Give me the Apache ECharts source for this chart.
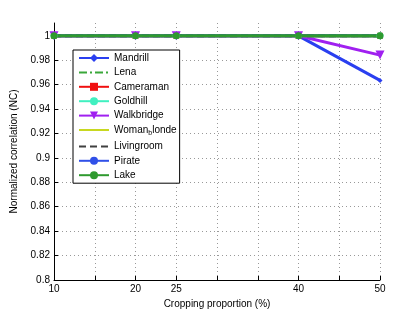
<!DOCTYPE html>
<html><head><meta charset="utf-8">
<script src="https://cdn.jsdelivr.net/npm/echarts@6/dist/echarts.min.js"></script>
<style>html,body{margin:0;padding:0;background:#fff}#c{width:420px;height:316px}</style>
</head><body><div id="c"></div>
<script>
const xValues = [10, 20, 25, 40, 50];
const xLabelTicks = [10, 20, 25, 40, 50];
const mandrill = [1, 1, 1, 1, 0.9635];
const lena = [1, 1, 1, 1, 1];
const cameraman = [1, 1, 1, 1, 1];
const goldhill = [1, 1, 1, 1, 1];
const walkbridge = [1, 1, 1, 1, 0.9842];
const womanBlonde = [1, 1, 1, 1, 1];
const livingroom = [1, 1, 1, 1, 1];
const pirate = [1, 1, 1, 1, 1];
const lake = [1, 1, 1, 1, 1];
const seriesNames = ['Mandrill','Lena','Cameraman','Goldhill','Walkbridge','Woman_blonde','Livingroom','Pirate','Lake'];
const seriesData = [mandrill, lena, cameraman, goldhill, walkbridge, womanBlonde, livingroom, pirate, lake];
const styles = [
  {color:'#2a3ff0', symbol:'diamond', size:5, type:'solid'},
  {color:'#3aa83a', symbol:'none', size:0, type:[8,3,2,3]},
  {color:'#f01010', symbol:'rect', size:6, type:'solid'},
  {color:'#40f0c0', symbol:'circle', size:7, type:'solid'},
  {color:'#a020f0', symbol:'triangle', size:9, type:'solid', rot:180},
  {color:'#c8d820', symbol:'none', size:0, type:'solid'},
  {color:'#404040', symbol:'none', size:0, type:[7,4]},
  {color:'#3050e8', symbol:'circle', size:5, type:'solid'},
  {color:'#2f9a2f', symbol:'circle', size:7, type:'solid'}
];
const series = seriesNames.map((n,i)=>({
  name:n, type:'line',
  data: xValues.map((x,j)=>[x, seriesData[i][j]]),
  symbol: styles[i].symbol, symbolSize: styles[i].size, symbolRotate: styles[i].rot||0,
  lineStyle:{color:styles[i].color, width:3, type:styles[i].type},
  itemStyle:{color:styles[i].color},
  animation:false
}));
const chart = echarts.init(document.getElementById('c'));
const font = 'Liberation Sans, Arial, sans-serif';
chart.setOption({
  animation:false,
  textStyle:{fontFamily:font},
  grid:{left:54, right:40, top:23, bottom:36, containLabel:false},
  legend:{
    orient:'vertical', left:73, top:50,
    backgroundColor:'#fff', borderColor:'#000', borderWidth:1,
    padding:[3,3,3,5], itemWidth:30, itemHeight:10, itemGap:4.4,
    textStyle:{fontSize:10, color:'#000', fontFamily:font,
      rich:{a:{fontSize:10,color:'#000',fontFamily:font}, s:{fontSize:7,color:'#000',fontFamily:font,padding:[7,0,0,0]}}},
    formatter:function(n){ return n==='Woman_blonde' ? '{a|Woman}{s|b}{a|londe}' : n; },
    data: seriesNames.map((n,i)=> styles[i].symbol==='none' ? {name:n, itemStyle:{opacity:0}} : {name:n})
  },
  xAxis:{
    type:'value', min:10, max:50, interval:5,
    name:'Cropping proportion (%)', nameLocation:'middle', nameGap:17,
    nameTextStyle:{fontSize:10, color:'#000', fontFamily:font},
    axisLine:{lineStyle:{color:'#000'}},
    axisTick:{inside:true, length:4, lineStyle:{color:'#000'}},
    axisLabel:{fontSize:10, color:'#000', margin:4, formatter:function(v){return xLabelTicks.indexOf(v)>=0? String(v):'';}},
    splitLine:{show:true, showMinLine:false, lineStyle:{color:'#999', type:[1,3], width:1}}
  },
  yAxis:{
    type:'value', min:0.8, max:1.0105, interval:0.02,
    name:'Normalized correlation (NC)', nameLocation:'middle', nameGap:29,
    nameTextStyle:{fontSize:10, color:'#000', fontFamily:font},
    axisLine:{show:true, lineStyle:{color:'#000'}},
    axisTick:{inside:true, length:4, lineStyle:{color:'#000'}},
    axisLabel:{fontSize:10, color:'#000', margin:4, showMaxLabel:false,
      formatter:function(v){ if(v>1.001) return ''; return Math.abs(v-1)<1e-6 ? '1' : String(Math.round(v*100)/100); }},
    splitLine:{show:true, showMinLine:false, showMaxLine:false, lineStyle:{color:'#999', type:[1,3], width:1}}
  },
  series: series
});
</script></body></html>
